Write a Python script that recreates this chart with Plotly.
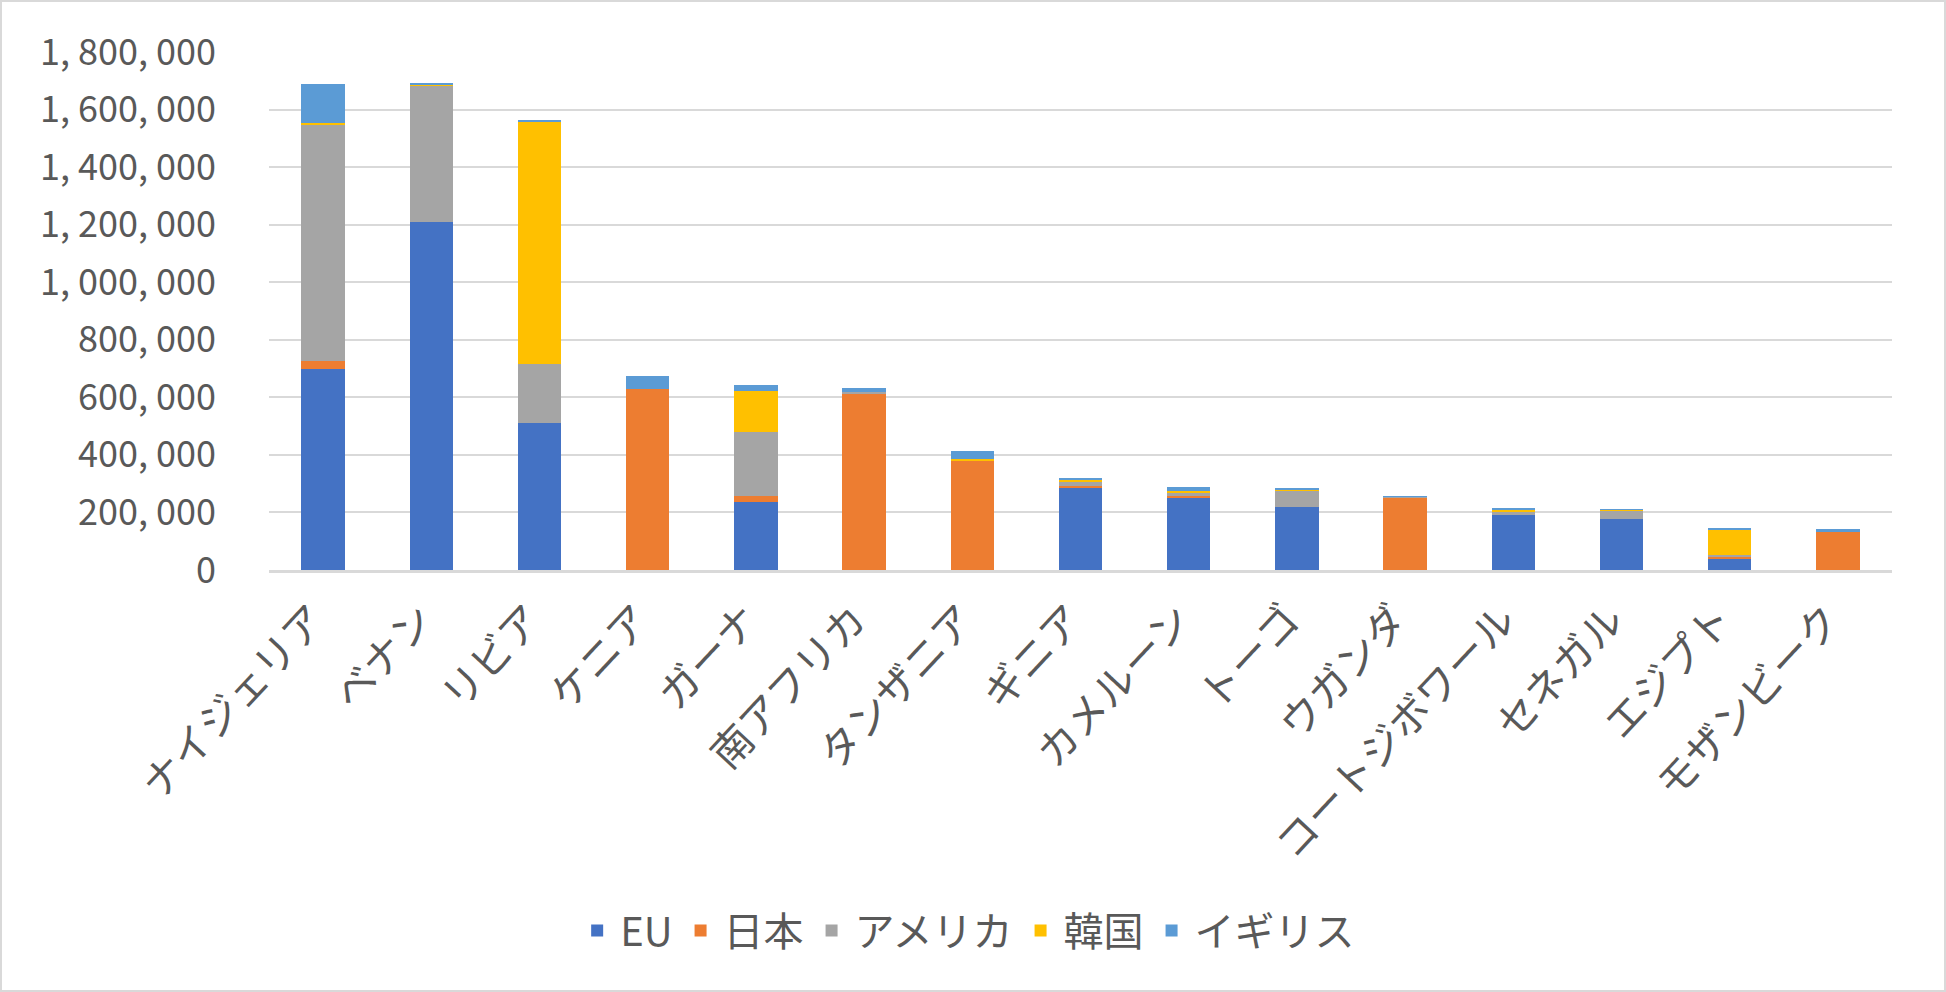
import plotly.graph_objects as go

countries = ['ナイジェリア', 'ベナン', 'リビア', 'ケニア', 'ガーナ', '南アフリカ',
             'タンザニア', 'ギニア', 'カメルーン', 'トーゴ', 'ウガンダ',
             'コートジボワール', 'セネガル', 'エジプト', 'モザンビーク']

eu = [697000, 1209000, 512000, 0, 238000, 0, 0, 287000, 252000, 219000,
      0, 191000, 177000, 41000, 0]
japan = [31000, 0, 0, 628000, 18500, 615000, 379000, 4000, 4500, 0,
         252000, 0, 0, 6000, 132500]
america = [819000, 476000, 203000, 0, 222000, 5000, 2500, 15000, 11500,
           58000, 3000, 14000, 30500, 6000, 0]
korea = [7500, 2000, 843000, 0, 142000, 0, 3000, 7000, 6000, 2000, 0,
         6000, 2000, 87000, 0]
uk = [136000, 2000, 4000, 44500, 24000, 11000, 28000, 6000, 14000, 2500,
      2000, 3500, 2000, 4700, 8300]

y_ticks = [0, 200000, 400000, 600000, 800000, 1000000, 1200000, 1400000,
           1600000, 1800000]
y_tick_text = ['0', '200, 000', '400, 000', '600, 000', '800, 000',
               '1, 000, 000', '1, 200, 000', '1, 400, 000', '1, 600, 000',
               '1, 800, 000']

series = [('EU', eu, '#4472C4'), ('日本', japan, '#ED7D31'),
          ('アメリカ', america, '#A5A5A5'), ('韓国', korea, '#FFC000'),
          ('イギリス', uk, '#5B9BD5')]

font = 'Noto Sans CJK JP'
grey_text = '#595959'
grid = '#D9D9D9'

fig = go.Figure()
for name, vals, color in series:
    fig.add_trace(go.Bar(x=countries, y=vals, name=name,
                         marker=dict(color=color, line_width=0)))

fig.update_layout(
    barmode='stack', bargap=0.6,
    width=1946, height=992,
    margin=dict(l=269, r=54, t=52, b=422),
    paper_bgcolor='white', plot_bgcolor='white',
    font=dict(family=font, size=40, color=grey_text),
    legend=dict(orientation='h', traceorder='normal',
                xref='container', yref='container',
                x=0.497, xanchor='center', y=0.062, yanchor='middle',
                itemwidth=36,
                font=dict(size=40, color=grey_text)),
    showlegend=True,
)

fig.update_xaxes(tickangle=-47, showgrid=False, showline=True,
                 linecolor=grid, linewidth=3, ticks='',
                 ticklabelstandoff=6, ticklabelshift=-10,
                 tickfont=dict(size=41))
fig.update_yaxes(range=[0, 1800000], tickvals=y_ticks, ticktext=y_tick_text,
                 showgrid=True, gridcolor=grid, gridwidth=2,
                 zeroline=False, showline=False, ticks='',
                 ticklabelstandoff=52, tickfont=dict(size=36))

# chart border like the excel chart area
fig.add_shape(type='rect', xref='paper', yref='paper',
              x0=-268 / 1623, x1=1676 / 1623, y0=-421 / 518, y1=569 / 518,
              line=dict(color=grid, width=2), fillcolor='rgba(0,0,0,0)',
              layer='below')

# page has a default body margin, drop it so the chart sits at 0,0
fig.write_html('out.html', config={'displayModeBar': False},
               post_script="document.body.style.margin='0';")
